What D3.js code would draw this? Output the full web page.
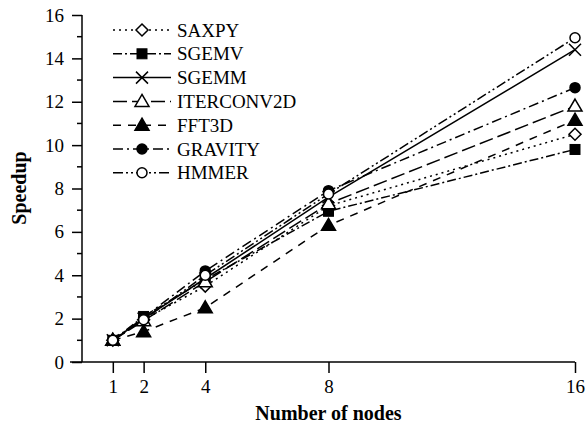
<!DOCTYPE html>
<html lang="en">
<head>
    <meta charset="UTF-8">
    <script src="https://cdnjs.cloudflare.com/ajax/libs/d3/7.8.5/d3.min.js"></script>
    <style>
        body {
            margin: 0;
            background: #fff;
        }

        text {
            font-family: "Liberation Serif", "Times New Roman", serif;
            fill: #000;
        }
    </style>
</head>
<body>
<svg id="chart" width="586" height="428"></svg>

<script>
    // nodes on the x axis
    var nodes = [1, 2, 4, 8, 16];
    var yTicks = [0, 2, 4, 6, 8, 10, 12, 14, 16];

    // speedup per benchmark
    var saxpy = [1, 1.95, 3.5, 7.2, 10.5];
    var sgemv = [1, 2.1, 3.8, 6.95, 9.8];
    var sgemm = [1, 2.0, 3.85, 7.6, 14.4];
    var iterconv2d = [1, 1.9, 3.7, 7.3, 11.8];
    var fft3d = [1, 1.4, 2.5, 6.3, 11.15];
    var gravity = [1, 2.05, 4.2, 7.9, 12.65];
    var hmmer = [1, 1.95, 4.0, 7.75, 14.95];

    var series = [
        {name: "SAXPY", values: saxpy, dash: "2,4", marker: "diamond", fill: "#fff"},
        {name: "SGEMV", values: sgemv, dash: "9,3,2,3", marker: "square", fill: "#000"},
        {name: "SGEMM", values: sgemm, dash: null, marker: "cross", fill: "none"},
        {name: "ITERCONV2D", values: iterconv2d, dash: "14,5", marker: "triangle", fill: "#fff"},
        {name: "FFT3D", values: fft3d, dash: "8,7", marker: "triangle", fill: "#000"},
        {name: "GRAVITY", values: gravity, dash: "10,4,2,4", marker: "circle", fill: "#000"},
        {name: "HMMER", values: hmmer, dash: "10,3,2,3,2,3", marker: "circle", fill: "#fff"}
    ];

    var svg = d3.select("#chart");

    var x = d3.scaleLinear().domain([0, 16]).range([82, 575]);
    var y = d3.scaleLinear().domain([0, 16]).range([362, 15]);

    // y axis with major and minor ticks
    var yAxis = svg.append("g")
        .attr("transform", "translate(82,0)")
        .call(d3.axisLeft(y).tickValues(yTicks).tickSize(10).tickPadding(8).tickSizeOuter(0));
    yAxis.selectAll("text").style("font-size", "19px");
    yAxis.select(".domain").remove();

    svg.append("g")
        .selectAll("line")
        .data(d3.range(1, 16, 2))
        .join("line")
        .attr("x1", 77).attr("x2", 82)
        .attr("y1", function (d) { return y(d); })
        .attr("y2", function (d) { return y(d); })
        .attr("stroke", "#000").attr("stroke-width", 1.5);

    svg.append("line")
        .attr("x1", 82).attr("x2", 82)
        .attr("y1", y(16)).attr("y2", y(0))
        .attr("stroke", "#000").attr("stroke-width", 1.5);

    var xAxis = svg.append("g")
        .attr("transform", "translate(0,362)")
        .call(d3.axisBottom(x).tickValues(nodes).tickSize(11).tickPadding(7).tickSizeOuter(0));
    xAxis.selectAll("text").style("font-size", "19px");
    xAxis.select(".domain").remove();
    svg.selectAll(".tick line").attr("stroke-width", 1.5);

    svg.append("line")
        .attr("x1", 70).attr("x2", x(16))
        .attr("y1", y(0)).attr("y2", y(0))
        .attr("stroke", "#000").attr("stroke-width", 1.5);

    // axis titles
    svg.append("text")
        .attr("x", (x(0) + x(16)) / 2)
        .attr("y", 420)
        .attr("text-anchor", "middle")
        .style("font-size", "20px")
        .style("font-weight", "bold")
        .text("Number of nodes");

    svg.append("text")
        .attr("transform", "translate(26,188) rotate(-90)")
        .attr("text-anchor", "middle")
        .style("font-size", "20px")
        .style("font-weight", "bold")
        .text("Speedup");

    function drawMarker(g, s, cx, cy) {
        if (s.marker === "circle") {
            g.append("circle").attr("cx", cx).attr("cy", cy).attr("r", 5)
                .attr("fill", s.fill).attr("stroke", "#000").attr("stroke-width", 1.5);
        } else if (s.marker === "square") {
            g.append("rect").attr("x", cx - 5).attr("y", cy - 5).attr("width", 10).attr("height", 10)
                .attr("fill", s.fill).attr("stroke", "#000").attr("stroke-width", 1);
        } else if (s.marker === "diamond") {
            g.append("path").attr("d", "M" + cx + "," + (cy - 6) + "L" + (cx + 6) + "," + cy +
                "L" + cx + "," + (cy + 6) + "L" + (cx - 6) + "," + cy + "Z")
                .attr("fill", s.fill).attr("stroke", "#000").attr("stroke-width", 1.5);
        } else if (s.marker === "triangle") {
            g.append("path").attr("d", "M" + cx + "," + (cy - 7) + "L" + (cx + 7) + "," + (cy + 5) +
                "L" + (cx - 7) + "," + (cy + 5) + "Z")
                .attr("fill", s.fill).attr("stroke", "#000").attr("stroke-width", 1.5);
        } else if (s.marker === "cross") {
            g.append("path").attr("d", "M" + (cx - 6) + "," + (cy - 6) + "L" + (cx + 6) + "," + (cy + 6) +
                "M" + (cx + 6) + "," + (cy - 6) + "L" + (cx - 6) + "," + (cy + 6))
                .attr("fill", "none").attr("stroke", "#000").attr("stroke-width", 1.5);
        }
    }

    var line = d3.line()
        .x(function (d, i) { return x(nodes[i]); })
        .y(function (d) { return y(d); });

    // lines first, markers on top
    series.forEach(function (s) {
        svg.append("path")
            .attr("d", line(s.values))
            .attr("fill", "none")
            .attr("stroke", "#000")
            .attr("stroke-width", 1.5)
            .attr("stroke-dasharray", s.dash);
    });
    series.forEach(function (s) {
        var g = svg.append("g");
        s.values.forEach(function (v, i) {
            drawMarker(g, s, x(nodes[i]), y(v));
        });
    });

    // legend
    var legend = svg.append("g");
    series.forEach(function (s, i) {
        var ly = 30 + i * 23.8;
        legend.append("line")
            .attr("x1", 113).attr("x2", 171)
            .attr("y1", ly).attr("y2", ly)
            .attr("stroke", "#000").attr("stroke-width", 1.5)
            .attr("stroke-dasharray", s.dash);
        drawMarker(legend, s, 142, ly);
        legend.append("text")
            .attr("x", 177).attr("y", ly)
            .attr("dy", "0.35em")
            .style("font-size", "19px")
            .text(s.name);
    });
</script>
</body>
</html>
